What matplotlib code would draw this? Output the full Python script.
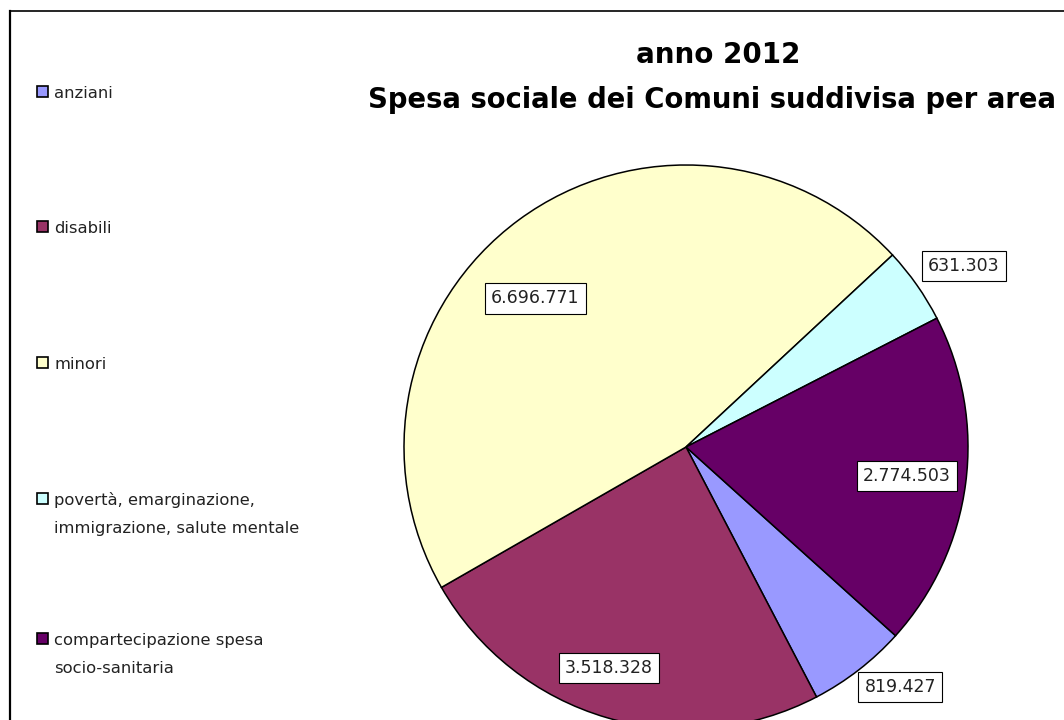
import matplotlib.pyplot as plt
from matplotlib.lines import Line2D
from matplotlib.patches import Rectangle
import numpy as np

# data
categories = ["anziani", "disabili", "minori",
              "povertà, emarginazione,\nimmigrazione, salute mentale",
              "compartecipazione spesa\nsocio-sanitaria"]
values = [819427, 3518328, 6696771, 631303, 2774503]
value_labels = ["819.427", "3.518.328", "6.696.771", "631.303", "2.774.503"]
colors = ["#9999FF", "#993366", "#FFFFCC", "#CCFFFF", "#660066"]

W, H = 1064, 720
fig = plt.figure(figsize=(W / 100, H / 100), dpi=100)
plt.rcParams['font.family'] = ['DejaVu Sans']

# chart border (left and top, the rest is cut off)
fig.add_artist(Line2D([10 / W, 10 / W], [0, (H - 11) / H], color="black", lw=1.6,
                      transform=fig.transFigure))
fig.add_artist(Line2D([10 / W, 1], [(H - 11) / H, (H - 11) / H], color="black", lw=1.2,
                      transform=fig.transFigure))

# pie: centre (686, 447) px, radius 282 px
cx, cy, R = 686, 447, 282
ax = fig.add_axes([(cx - R) / W, (H - cy - R) / H, 2 * R / W, 2 * R / H])
wedges, _ = ax.pie(values, colors=colors, startangle=-42, counterclock=False,
                   radius=1, wedgeprops=dict(edgecolor="black", linewidth=1.1))
ax.set_xlim(-1, 1)
ax.set_ylim(-1, 1)
ax.set_aspect("equal")
ax.axis("off")

# value labels in boxes
label_r = [1.14, 0.83, 0.75, 1.175, 0.79]
label_da = [4, -3, 9, -2, 0]
for w, txt, r, da in zip(wedges, value_labels, label_r, label_da):
    ang = np.deg2rad((w.theta1 + w.theta2) / 2 + da)
    ax.text(r * np.cos(ang), r * np.sin(ang), txt, ha="center", va="center",
            fontsize=12.5, color="#222222", clip_on=False,
            bbox=dict(boxstyle="square,pad=0.35", fc="white", ec="black", lw=0.8))

# title
fig.text(718 / W, (H - 55) / H, "anno 2012", ha="center", va="center",
         fontsize=20, fontweight="bold")
fig.text(368 / W, (H - 100) / H, "Spesa sociale dei Comuni suddivisa per area",
         ha="left", va="center", fontsize=19.8, fontweight="bold")

# legend (baseline of a multi-line text is its last line, ~28 px per line)
leg_y = [93, 228, 364, 500, 640]
for name, col, y in zip(categories, colors, leg_y):
    fig.add_artist(Rectangle((37 / W, (H - y - 4) / H), 11 / W, 11 / H,
                             facecolor=col, edgecolor="black", lw=1.2,
                             transform=fig.transFigure))
    base = y + 5 + name.count("\n") * 28
    fig.text(54 / W, (H - base) / H, name, ha="left", va="baseline",
             fontsize=11.8, color="#222222", linespacing=2.05)

fig.savefig("out.png", dpi=100)
